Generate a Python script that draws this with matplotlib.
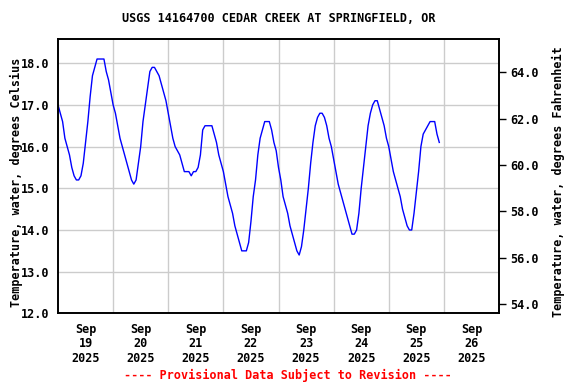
import pandas as pd
import matplotlib
matplotlib.use("Agg")
import matplotlib.pyplot as plt

# Hourly water temperature (deg C), starting Sep 19 2025 00:00
temp_c = [
    17.0, 16.8, 16.6, 16.2, 16.0, 15.8, 15.5, 15.3, 15.2, 15.2, 15.3, 15.6,
    16.1, 16.6, 17.2, 17.7, 17.9, 18.1, 18.1, 18.1, 18.1, 17.8, 17.6, 17.3,
    17.0, 16.8, 16.5, 16.2, 16.0, 15.8, 15.6, 15.4, 15.2, 15.1, 15.2, 15.6,
    16.0, 16.6, 17.0, 17.4, 17.8, 17.9, 17.9, 17.8, 17.7, 17.5, 17.3, 17.1,
    16.8, 16.5, 16.2, 16.0, 15.9, 15.8, 15.6, 15.4, 15.4, 15.4, 15.3, 15.4,
    15.4, 15.5, 15.8, 16.4, 16.5, 16.5, 16.5, 16.5, 16.3, 16.1, 15.8, 15.6,
    15.4, 15.1, 14.8, 14.6, 14.4, 14.1, 13.9, 13.7, 13.5, 13.5, 13.5, 13.7,
    14.2, 14.8, 15.2, 15.8, 16.2, 16.4, 16.6, 16.6, 16.6, 16.4, 16.1, 15.9,
    15.5, 15.2, 14.8, 14.6, 14.4, 14.1, 13.9, 13.7, 13.5, 13.4, 13.6, 14.0,
    14.5, 15.0, 15.6, 16.1, 16.5, 16.7, 16.8, 16.8, 16.7, 16.5, 16.2, 16.0,
    15.7, 15.4, 15.1, 14.9, 14.7, 14.5, 14.3, 14.1, 13.9, 13.9, 14.0, 14.4,
    15.0, 15.5, 16.0, 16.5, 16.8, 17.0, 17.1, 17.1, 16.9, 16.7, 16.5, 16.2,
    16.0, 15.7, 15.4, 15.2, 15.0, 14.8, 14.5, 14.3, 14.1, 14.0, 14.0, 14.4,
    14.9, 15.4, 16.0, 16.3, 16.4, 16.5, 16.6, 16.6, 16.6, 16.3, 16.1,
]
times = pd.date_range("2025-09-19 00:00", periods=len(temp_c), freq="1h")

day_labels = ["Sep\n19\n2025", "Sep\n20\n2025", "Sep\n21\n2025", "Sep\n22\n2025",
              "Sep\n23\n2025", "Sep\n24\n2025", "Sep\n25\n2025", "Sep\n26\n2025"]
c_ticks = [12.0, 13.0, 14.0, 15.0, 16.0, 17.0, 18.0]
f_ticks = [54.0, 56.0, 58.0, 60.0, 62.0, 64.0]

font = dict(family="DejaVu Sans Mono", weight="bold", size=8.5)

fig = plt.figure(figsize=(5.76, 3.84), dpi=100)
ax = fig.add_axes([58 / 576, 1 - 313.4 / 384, 441 / 576, 274.4 / 384])

ax.plot(times, temp_c, color="#0000ff", linewidth=1.0)

start = pd.Timestamp("2025-09-19")
end = pd.Timestamp("2025-09-27")
ax.set_xlim(start, end)
ymin, ymax = 12.0, 18.58
ax.set_ylim(ymin, ymax)

noons = pd.date_range("2025-09-19 12:00", periods=8, freq="1D")
midnights = pd.date_range("2025-09-20", periods=7, freq="1D")
ax.set_xticks(noons)
ax.set_xticklabels(day_labels, **font, linespacing=1.12)
ax.set_xticks(midnights, minor=True)
ax.tick_params(axis="x", which="both", length=0, pad=7)
ax.set_yticks(c_ticks)
ax.set_yticklabels([f"{v:.1f}" for v in c_ticks], **font)
ax.tick_params(axis="y", length=0, pad=6)

ax.grid(True, axis="y", color="#cccccc", linewidth=1.0)
ax.grid(True, axis="x", which="minor", color="#cccccc", linewidth=1.0)
ax.set_axisbelow(True)
for s in ax.spines.values():
    s.set_linewidth(1.2)

ax2 = ax.twinx()
ax2.set_ylim(ymin * 1.8 + 32, ymax * 1.8 + 32)
ax2.set_yticks(f_ticks)
ax2.set_yticklabels([f"{v:.1f}" for v in f_ticks], **font)
ax2.tick_params(axis="y", length=5, width=1, pad=3)
for s in ax2.spines.values():
    s.set_linewidth(1.2)

fig.text(0.4835, 1 - 19 / 384, "USGS 14164700 CEDAR CREEK AT SPRINGFIELD, OR",
         ha="center", va="center", **font)
fig.text(16 / 576, 1 - 182 / 384, "Temperature, water, degrees Celsius",
         rotation=90, ha="center", va="center", **font)
fig.text(558 / 576, 1 - 182 / 384, "Temperature, water, degrees Fahrenheit",
         rotation=90, ha="center", va="center", **font)
fig.text(0.5, 1 - 375 / 384, "---- Provisional Data Subject to Revision ----",
         ha="center", va="center", color="#ff0000", **font)

fig.savefig("out.png", dpi=100)
